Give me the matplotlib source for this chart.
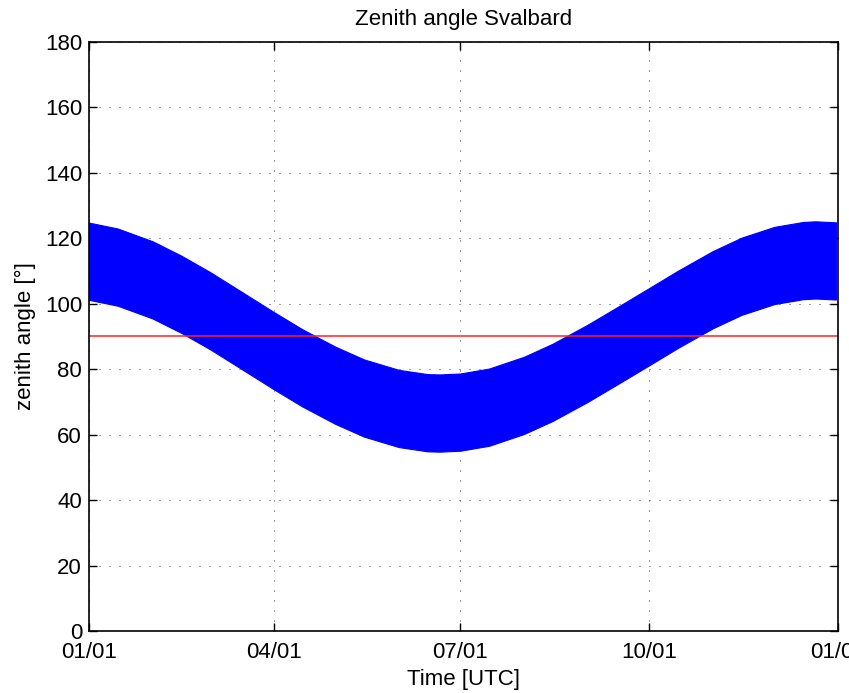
import matplotlib
matplotlib.use("Agg")
import matplotlib.pyplot as plt
import matplotlib.dates as mdates
import numpy as np
import datetime as dt

# Envelope of the daily zenith-angle oscillation
dates_str = ["2013-01-01", "2013-01-15", "2013-02-01", "2013-02-15", "2013-03-01",
             "2013-03-15", "2013-04-01", "2013-04-15", "2013-05-01", "2013-05-15",
             "2013-06-01", "2013-06-15", "2013-06-21", "2013-07-01", "2013-07-15",
             "2013-08-01", "2013-08-15", "2013-09-01", "2013-09-15", "2013-10-01",
             "2013-10-15", "2013-11-01", "2013-11-15", "2013-12-01", "2013-12-15",
             "2013-12-21", "2013-12-31"]
daily_min = [101.2, 99.4, 95.5, 91.1, 86.1, 80.6, 73.9, 68.6, 63.3, 59.4,
             56.2, 54.9, 54.8, 55.1, 56.6, 60.2, 64.2, 70.0, 75.2, 81.2,
             86.5, 92.5, 96.6, 99.9, 101.4, 101.6, 101.3]
daily_max = [124.8, 123.0, 119.1, 114.7, 109.7, 104.2, 97.5, 92.2, 86.9, 83.0,
             79.8, 78.5, 78.4, 78.7, 80.2, 83.8, 87.8, 93.6, 98.8, 104.8,
             110.1, 116.1, 120.2, 123.5, 125.0, 125.2, 124.9]
horizon = 90
tick_dates = ["2013-01-01", "2013-04-01", "2013-07-01", "2013-10-01", "2014-01-01"]
y_ticks = list(range(0, 181, 20))

plt.rcParams['font.family'] = ['Liberation Sans', 'DejaVu Sans']

x = [dt.datetime.fromisoformat(s) for s in dates_str]
xt = [dt.datetime.fromisoformat(s) for s in tick_dates]

fig = plt.figure(figsize=(8.49, 6.93), dpi=100)
ax = fig.add_axes([0.1048, 0.0895, 0.8822, 0.8499])

ax.fill_between(x, daily_min, daily_max, color='#0000ff', linewidth=0.8,
                edgecolor='#0000ff', zorder=2)
ax.axhline(horizon, color='#ff2020', linewidth=1.1, zorder=3)

ax.set_xlim(xt[0], xt[-1])
ax.set_ylim(0, 180)
ax.set_xticks(xt)
ax.xaxis.set_major_formatter(mdates.DateFormatter('%m/%d'))
ax.set_yticks(y_ticks)

ax.grid(True, color='#404040', linestyle=(0, (1, 9)), linewidth=0.72, zorder=1)
ax.tick_params(direction='in', length=6, width=1, labelsize=16,
               top=True, right=True)
ax.tick_params(axis='x', pad=8)
ax.tick_params(axis='y', pad=5)
for sp in ax.spines.values():
    sp.set_linewidth(1.2)
    sp.set_zorder(5)

ax.set_title('Zenith angle Svalbard', fontsize=16, pad=12)
ax.set_xlabel('Time [UTC]', fontsize=16, labelpad=4)
ax.set_ylabel('zenith angle [°]', fontsize=16, labelpad=6)

fig.savefig('out.png', dpi=100)
